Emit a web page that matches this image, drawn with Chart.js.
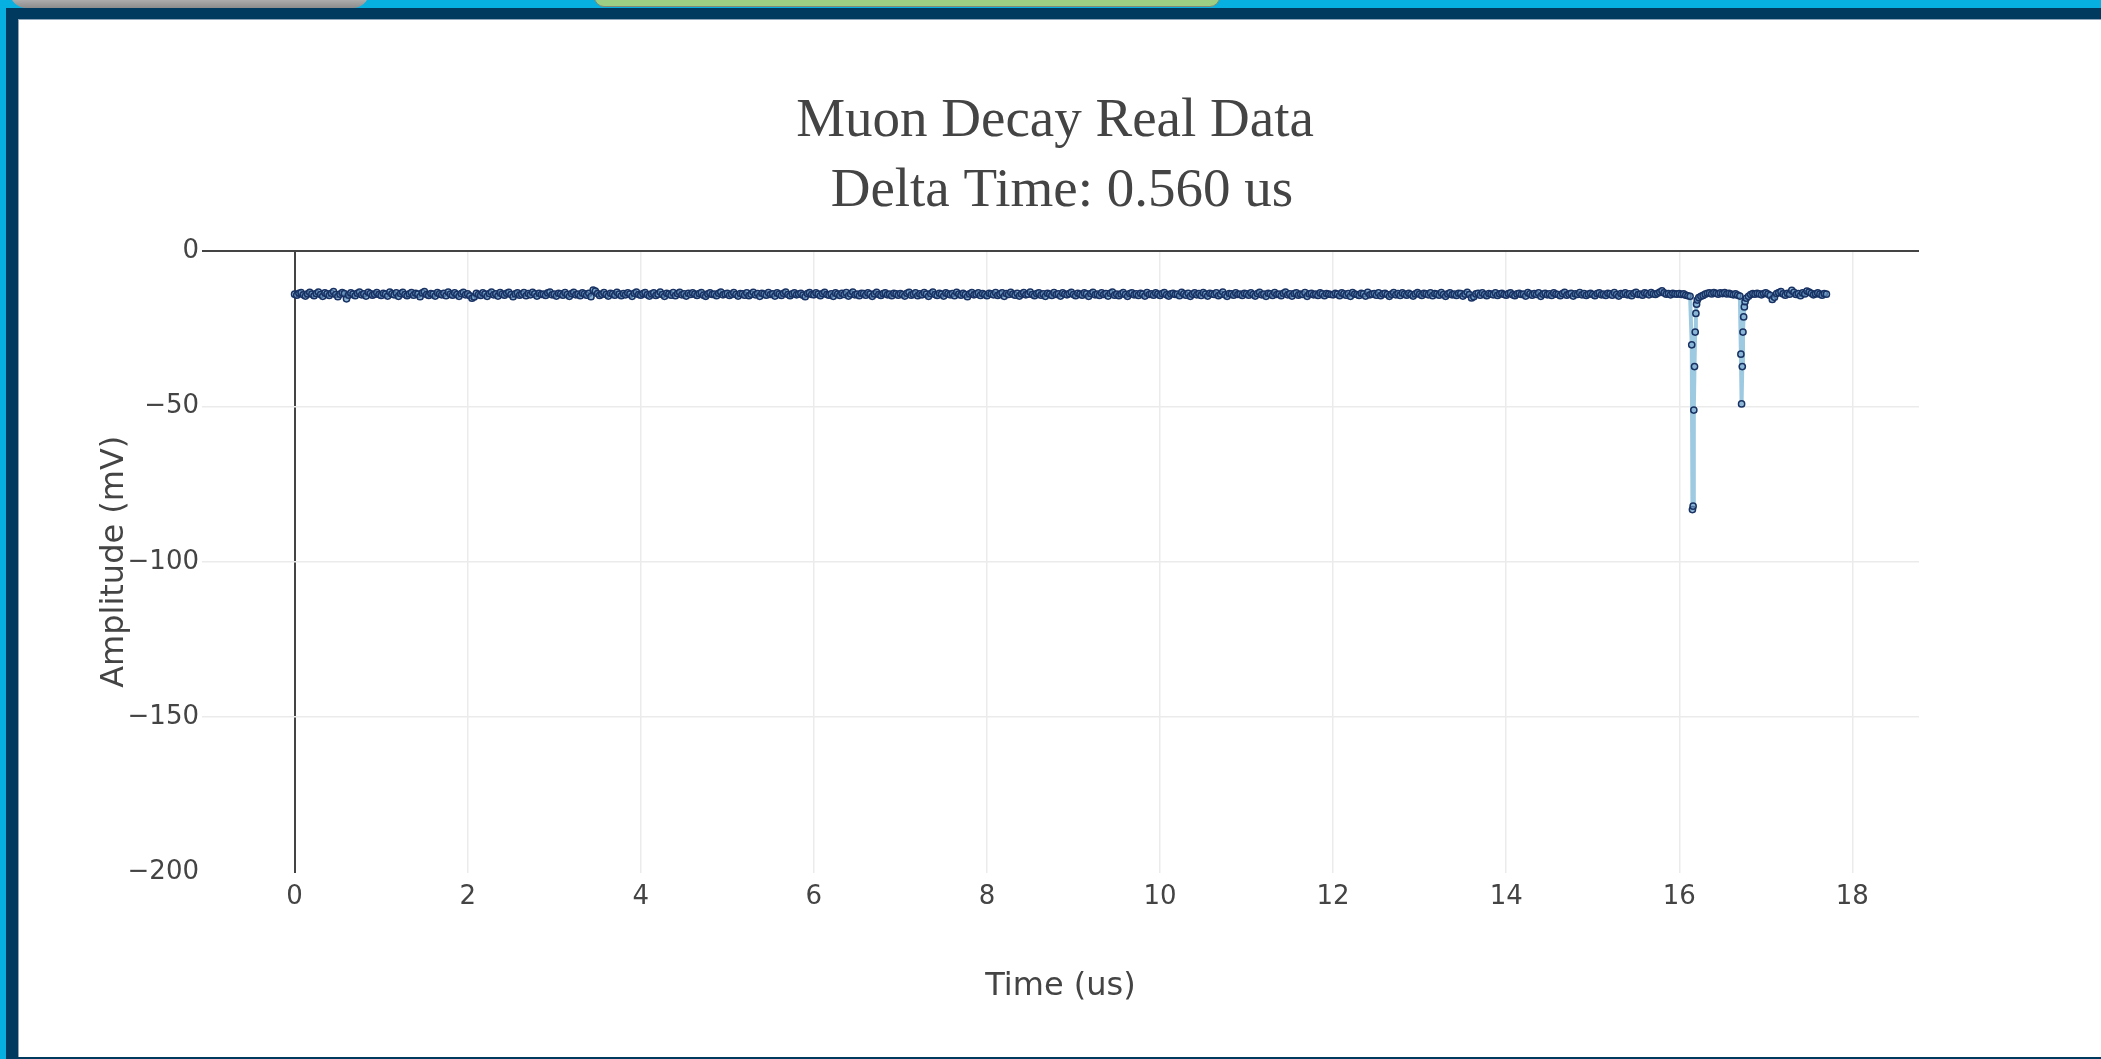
<!DOCTYPE html>
<html>
<head>
<meta charset="utf-8">
<title>Muon Decay Real Data</title>
<script src="https://cdn.jsdelivr.net/npm/chart.js@4.4.1/dist/chart.umd.min.js"></script>
<style>
    html, body { margin: 0; padding: 0; width: 2101px; height: 1059px; overflow: hidden; background: #fff; }
    #frame { position: absolute; left: 0; top: 0; width: 2101px; height: 1059px; background: #06b1e1; }
    #navy { position: absolute; left: 6px; top: 8px; right: 0; bottom: 0; background: #003a5f; }
    #page { position: absolute; left: 18px; top: 19px; width: 2083px; height: 1038px; background: #fff;
            border-top: 1px solid #8fa6bb; border-left: 1px solid #8fa6bb; box-sizing: border-box; }
    .tab { position: absolute; top: -20px; box-sizing: border-box; }
    .tab.grey { left: 10px; width: 359px; height: 28px; border-radius: 0 0 16px 16px;
                background: linear-gradient(#d8d8d8, #b9b9b9 60%, #8c8c8c); }
    .tab.green { left: 594px; width: 626px; height: 27px; border-radius: 0 0 10px 10px;
                 background: #9ccf84; border: 1px solid #7d8a77; }
    #chartBox { position: absolute; left: 18px; top: 19px; width: 2083px; height: 1038px; }
</style>
</head>
<body>
<div id="frame">
    <div class="tab grey"></div>
    <div class="tab green"></div>
    <div id="navy"></div>
    <div id="page"></div>
</div>
<div id="chartBox"><canvas id="muonChart"></canvas></div>

<script>
// Baseline readings (mV), one every sampleStep us from t = 0 (one row per us)
const sampleStep = 0.025;
const baselineAmp = [
    -13.9,-14.2,-13.6,-13.4,-14.1,-14.5,-13.8,-13.3,-13.9,-14.4, -13.7,-13.2,-14.0,-14.6,-13.5,-13.8,-14.3,-13.6,-13.1,-14.0, -14.7,-13.9,-13.4,-13.7,-15.4,-14.2,-13.5,-13.9,-14.4,-13.6, -13.2,-14.1,-13.8,-14.5,-13.3,-13.7,-14.2,-13.9,-13.4,-14.0,
    -14.3,-13.6,-13.9,-14.5,-13.2,-13.8,-14.1,-13.5,-14.6,-13.7, -13.3,-14.0,-14.4,-13.8,-13.4,-14.2,-13.6,-13.9,-14.7,-13.5, -13.1,-14.0,-14.3,-13.7,-13.9,-14.5,-13.4,-13.8,-14.1,-13.6, -14.4,-13.2,-13.9,-14.2,-13.5,-14.0,-14.6,-13.7,-13.3,-14.1,
    -13.8,-14.4,-15.2,-14.8,-13.6,-14.0,-14.3,-13.5,-13.9,-14.6, -13.7,-13.2,-14.1,-13.8,-14.5,-13.4,-13.9,-14.2,-13.6,-13.3, -14.0,-14.7,-13.8,-13.5,-14.2,-13.9,-13.4,-14.4,-13.7,-14.1, -13.3,-13.8,-14.5,-13.6,-14.0,-13.9,-14.3,-13.5,-13.2,-14.1,
    -13.9,-14.5,-13.6,-13.8,-14.2,-13.4,-14.0,-14.6,-13.7,-13.3, -14.1,-13.9,-14.4,-13.5,-13.8,-14.2,-13.6,-14.7,-12.6,-12.9, -13.7,-14.3,-13.9,-13.4,-14.0,-14.5,-13.6,-13.8,-14.2,-13.3, -13.9,-14.4,-13.7,-14.1,-13.5,-13.9,-14.6,-13.6,-13.2,-14.0,
    -14.2,-13.7,-13.4,-14.1,-14.5,-13.8,-13.5,-14.3,-13.9,-13.2, -14.0,-14.6,-13.6,-13.9,-14.2,-13.4,-14.4,-13.7,-13.3,-14.1, -13.8,-14.5,-13.6,-14.0,-13.5,-13.9,-14.3,-13.7,-13.4,-14.2, -14.6,-13.8,-13.5,-14.0,-13.9,-14.4,-13.6,-13.2,-14.1,-13.8,
    -13.6,-14.3,-13.9,-13.4,-14.0,-14.5,-13.7,-13.8,-14.2,-13.5, -14.4,-13.9,-13.3,-14.1,-13.7,-14.6,-13.6,-13.9,-14.2,-13.4, -14.0,-13.8,-14.5,-13.5,-13.9,-14.3,-13.6,-13.2,-14.0,-14.4, -13.8,-13.5,-14.1,-13.9,-13.6,-14.2,-14.7,-13.7,-13.4,-14.0,
    -14.1,-13.5,-13.9,-14.4,-13.7,-13.3,-14.0,-14.2,-13.8,-14.6, -13.5,-13.9,-14.3,-13.6,-14.0,-13.4,-14.5,-13.8,-13.2,-14.1, -13.9,-14.4,-13.6,-13.7,-14.2,-13.5,-13.9,-14.6,-13.8,-13.3, -14.0,-14.3,-13.7,-13.5,-14.1,-13.9,-14.4,-13.6,-13.8,-14.2,
    -13.7,-14.0,-14.5,-13.6,-13.3,-14.2,-13.9,-13.5,-14.4,-13.8, -14.1,-13.4,-13.9,-14.6,-13.7,-13.2,-14.0,-14.3,-13.6,-13.9, -14.5,-13.5,-13.8,-14.1,-13.7,-14.4,-13.3,-13.9,-14.2,-13.6, -14.0,-14.7,-13.8,-13.4,-14.1,-13.9,-13.5,-14.3,-13.7,-14.0,
    -14.4,-13.6,-13.8,-14.1,-13.4,-14.3,-13.9,-13.5,-14.6,-13.7, -14.0,-13.3,-13.9,-14.2,-13.6,-14.5,-13.8,-13.4,-14.1,-13.9, -13.2,-14.0,-14.4,-13.7,-13.5,-14.2,-13.8,-14.6,-13.6,-13.9, -14.3,-13.4,-14.0,-13.8,-14.5,-13.5,-13.9,-14.1,-13.7,-13.3,
    -14.0,-14.4,-13.6,-13.9,-14.2,-13.5,-13.8,-14.6,-13.7,-13.3, -14.1,-13.9,-14.3,-13.5,-14.0,-13.7,-14.5,-13.6,-13.2,-14.2, -13.9,-14.4,-13.8,-13.4,-14.0,-14.6,-13.7,-13.5,-14.1,-13.8, -14.3,-13.6,-13.9,-14.5,-13.4,-14.0,-13.8,-14.2,-13.5,-13.9,
    -14.3,-13.7,-13.4,-14.1,-14.5,-13.8,-13.6,-14.0,-13.9,-14.4, -13.3,-13.8,-14.2,-13.6,-14.6,-13.9,-13.5,-14.1,-13.7,-14.3, -13.4,-13.9,-14.5,-13.6,-13.8,-14.0,-13.5,-14.4,-13.9,-13.2, -14.1,-14.6,-13.7,-13.8,-14.2,-13.5,-14.0,-13.9,-14.3,-13.6,
    -13.8,-14.2,-13.5,-14.0,-14.5,-13.7,-13.3,-14.1,-13.9,-14.6, -13.6,-13.8,-14.3,-13.4,-14.0,-13.9,-14.4,-13.6,-13.2,-14.1, -13.8,-14.5,-13.7,-13.5,-14.2,-13.9,-14.0,-13.4,-14.6,-13.8, -13.6,-14.1,-13.9,-14.3,-13.5,-13.8,-14.4,-13.7,-13.9,-14.0,
    -14.1,-13.6,-13.9,-14.4,-13.5,-13.8,-14.2,-13.7,-14.6,-13.4, -13.9,-14.0,-14.3,-13.6,-13.8,-14.5,-13.3,-14.1,-13.9,-13.7, -14.2,-13.5,-14.4,-13.8,-13.6,-14.0,-14.6,-13.9,-13.4,-14.1, -13.7,-14.3,-13.5,-13.9,-14.2,-13.6,-14.0,-14.5,-13.8,-13.4,
    -13.9,-14.3,-13.6,-13.8,-14.1,-13.5,-14.4,-13.7,-13.9,-14.2, -13.4,-14.0,-14.6,-13.8,-13.5,-14.1,-13.9,-14.3,-13.6,-13.7, -14.5,-13.9,-13.3,-14.0,-15.1,-14.7,-13.8,-13.6,-14.2,-13.5, -14.0,-14.4,-13.7,-13.9,-14.1,-13.5,-14.3,-13.8,-13.6,-14.0,
    -14.2,-13.7,-13.5,-14.1,-14.4,-13.8,-13.6,-14.0,-13.9,-14.5, -13.4,-13.8,-14.2,-13.7,-14.0,-13.5,-14.6,-13.9,-13.6,-14.1, -13.8,-14.3,-13.5,-13.9,-14.0,-14.4,-13.7,-13.3,-14.2,-13.9, -13.6,-14.5,-13.8,-14.0,-13.4,-14.1,-13.7,-14.3,-13.9,-13.6,
    -14.0,-14.4,-13.7,-13.5,-14.1,-13.9,-14.3,-13.6,-13.8,-14.2, -13.4,-14.0,-14.5,-13.7,-13.9,-13.5,-14.1,-13.8,-14.4,-13.6, -13.3,-14.0,-13.9,-14.2,-13.5,-13.7,-14.1,-13.4,-13.8,-14.0, -13.6,-13.2,-12.8,-13.5,-13.9,-13.7,-14.1,-13.6,-13.8,-13.9,
    -13.7,-14.0,-13.8,-14.2,-14.4,-14.6,-14.5,-15.0,-15.2,-15.0, -14.6,-14.3,-13.9,-13.6,-13.5,-13.8,-13.4,-13.6,-13.9,-13.5, -13.7,-13.4,-13.8,-13.6,-13.9,-14.1,-13.8,-14.2,-14.5,-14.8, -15.0,-15.2,-14.6,-14.0,-13.7,-13.9,-13.6,-13.8,-14.1,-13.7,
    -13.5,-13.9,-14.3,-15.6,-14.9,-13.7,-13.4,-13.1,-13.8,-14.2, -13.6,-13.9,-12.7,-13.3,-14.0,-13.7,-14.4,-13.5,-13.8,-12.9, -13.2,-13.6,-14.1,-13.8,-13.5,-13.9,-14.2,-13.7,-13.9
];

// The two pulses (muon stop, then decay electron), finer sampling
const pulse1Time = [16.144, 16.152, 16.160, 16.168, 16.176, 16.184, 16.192, 16.200, 16.208];
const pulse1Amp  = [-30.2, -83.2, -82.1, -51.2, -37.2, -26.1, -20.1, -17.1, -15.8];
const pulse2Time = [16.712, 16.720, 16.728, 16.736, 16.744, 16.752, 16.760];
const pulse2Amp  = [-33.2, -49.2, -37.2, -26.1, -21.2, -18.0, -16.3];

const titleLines = ['Muon Decay Real Data', ' Delta Time: 0.560 us'];
const xRange = [-1.07, 18.77];
const yRange = [-200, 0];

const lineColor = 'rgb(158, 202, 225)';
const markerEdge = 'rgb(24, 50, 100)';
const markerFill = 'rgba(120, 165, 205, 0.55)';
const tickFont = { family: 'DejaVu Sans', size: 26 };
const axisTitleFont = { family: 'DejaVu Sans', size: 32 };

// merge baseline and pulse samples into one trace
const pulses = [[pulse1Time, pulse1Amp], [pulse2Time, pulse2Amp]];
const points = [];
baselineAmp.forEach(function(v, i) {
    const t = Math.round(i * sampleStep * 1000) / 1000;
    const inPulse = pulses.some(([ts]) => t >= ts[0] - 0.01 && t <= ts[ts.length - 1] + 0.01);
    if (!inPulse) points.push({ x: t, y: v });
});
pulses.forEach(([ts, amps]) => ts.forEach((t, i) => points.push({ x: t, y: amps[i] })));
points.sort((a, b) => a.x - b.x);

function minusLabel(value) {
    return value < 0 ? '\u2212' + Math.abs(value) : String(value);
}

new Chart(document.getElementById('muonChart'), {
    type: 'scatter',
    data: {
        datasets: [{
            data: points,
            showLine: true,
            borderColor: lineColor,
            borderWidth: 4,
            borderJoinStyle: 'round',
            borderCapStyle: 'round',
            tension: 0,
            pointRadius: 3.1,
            pointBorderWidth: 1.5,
            pointBorderColor: markerEdge,
            pointBackgroundColor: markerFill
        }]
    },
    options: {
        responsive: true,
        maintainAspectRatio: false,
        animation: false,
        layout: { padding: { left: 0, right: 9, top: 0, bottom: 0 } },
        plugins: {
            legend: { display: false },
            tooltip: { enabled: false },
            title: {
                display: true,
                text: titleLines,
                color: '#444',
                font: { family: '"Liberation Serif", "Times New Roman", serif', size: 55, weight: 'normal', lineHeight: 70 / 55 },
                padding: { top: 68, bottom: 24 }
            }
        },
        scales: {
            x: {
                type: 'linear',
                position: 'bottom',
                min: xRange[0],
                max: xRange[1],
                afterFit: function(scale) { scale.height = 184.5; },
                border: { display: false },
                grid: {
                    drawTicks: false,
                    color: ctx => ctx.tick && ctx.tick.value === 0 ? '#444' : '#ebebeb',
                    lineWidth: ctx => ctx.tick && ctx.tick.value === 0 ? 2 : 1.5
                },
                ticks: { stepSize: 2, includeBounds: false, padding: 9, color: '#444', font: tickFont, callback: minusLabel },
                title: { display: true, text: 'Time (us)', color: '#444', font: axisTitleFont, padding: { top: 0, bottom: 51 } }
            },
            y: {
                type: 'linear',
                position: 'left',
                min: yRange[0],
                max: yRange[1],
                afterFit: function(scale) { scale.width = 184; },
                border: { display: false },
                grid: {
                    drawTicks: false,
                    color: function(ctx) {
                        if (!ctx.tick) return '#ebebeb';
                        if (ctx.tick.value === 0) return '#444';
                        if (ctx.tick.value === yRange[0]) return 'rgba(0,0,0,0)';
                        return '#ebebeb';
                    },
                    lineWidth: ctx => ctx.tick && ctx.tick.value === 0 ? 2 : 1.5
                },
                ticks: { stepSize: 50, padding: 3, color: '#444', font: tickFont, callback: minusLabel },
                title: { display: true, text: 'Amplitude (mV)', color: '#444', font: axisTitleFont, padding: { top: 77, bottom: 0 } }
            },
            // empty right box, only keeps the plot's right margin
            yPad: {
                type: 'linear',
                position: 'right',
                afterFit: function(scale) { scale.width = 173; },
                border: { display: false },
                grid: { display: false },
                ticks: { display: false }
            }
        }
    }
});
</script>
</body>
</html>
